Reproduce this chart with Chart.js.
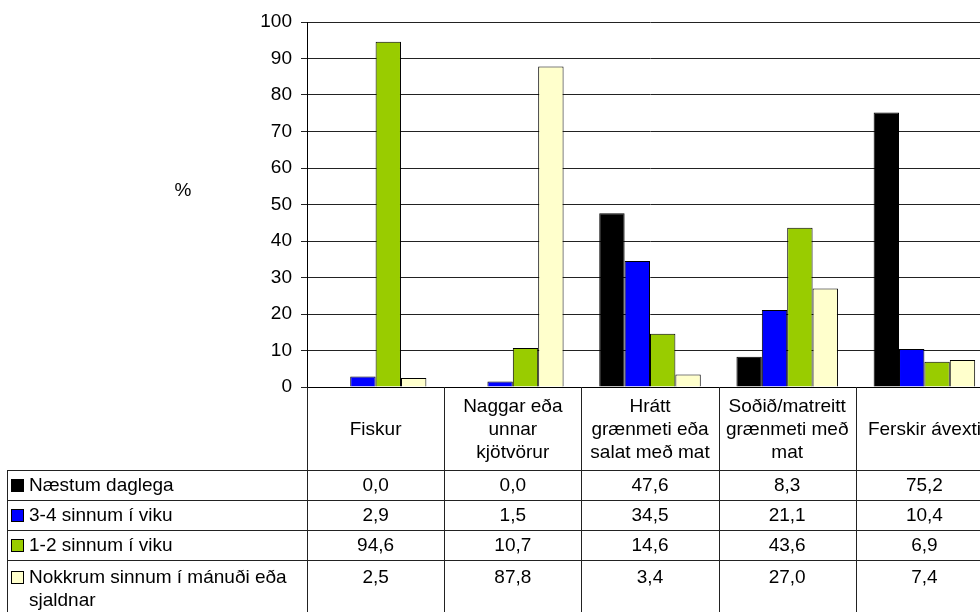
<!DOCTYPE html>
<html><head><meta charset="utf-8">
<script src="https://cdn.jsdelivr.net/npm/chart.js@4/dist/chart.umd.min.js"></script>
<style>
html,body{margin:0;padding:0;overflow:hidden;background:#fff;width:980px;height:612px}
#wrap{position:absolute;left:0;top:0;width:995px;height:612px}
</style></head>
<body><div id="wrap"><canvas id="c" width="995" height="612"></canvas></div>
<script>
// ---- data ----
const categories = [
  ["Fiskur"],
  ["Naggar eða", "unnar", "kjötvörur"],
  ["Hrátt", "grænmeti eða", "salat með mat"],
  ["Soðið/matreitt", "grænmeti með", "mat"],
  ["Ferskir ávexti"]
];
const seriesNames = [
  ["Næstum daglega"],
  ["3-4 sinnum í viku"],
  ["1-2 sinnum í viku"],
  ["Nokkrum sinnum í mánuði eða", "sjaldnar"]
];
const naestumDaglega   = [0.0, 0.0, 47.6, 8.3, 75.2];
const sinnum34         = [2.9, 1.5, 34.5, 21.1, 10.4];
const sinnum12         = [94.6, 10.7, 14.6, 43.6, 6.9];
const nokkrumSinnum    = [2.5, 87.8, 3.4, 27.0, 7.4];
const seriesColors = ["#000000", "#0000FF", "#99CC00", "#FFFFCC"];
const yTicks = [0, 10, 20, 30, 40, 50, 60, 70, 80, 90, 100];
const yAxisTitle = "%";

const seriesValues = [naestumDaglega, sinnum34, sinnum12, nokkrumSinnum];
const FONT = '"Liberation Sans", Arial, sans-serif';
Chart.defaults.font.family = FONT;
Chart.defaults.font.size = 19;
Chart.defaults.color = "#000";

function fmt(v){ return v.toFixed(1).replace('.', ','); }

const tablePlugin = {
  id: 'dataTable',
  afterDraw(chart){
    const ctx = chart.ctx, xs = chart.scales.x, ys = chart.scales.y;
    const left = xs.left, right = xs.right, top = ys.bottom;
    const n = categories.length, w = (right - left) / n;
    const headerH = 83, rowH = 30, tableLeft = 7, lineH = 23;
    const H = chart.height;
    ctx.save();
    ctx.strokeStyle = '#222'; ctx.lineWidth = 1;
    const line = (x1,y1,x2,y2)=>{ctx.beginPath();ctx.moveTo(x1,y1);ctx.lineTo(x2,y2);ctx.stroke();};
    for (let i = 0; i <= n; i++) {
      const px = Math.round(left + i*w) + 0.5;
      line(px, top, px, H);
    }
    line(tableLeft + 0.5, top + headerH, tableLeft + 0.5, H);
    for (let r = 0; r < seriesNames.length; r++) {
      const py = Math.round(top + headerH + r*rowH) + 0.5;
      line(tableLeft, py, right, py);
    }
    ctx.fillStyle = '#000';
    ctx.font = '19px ' + FONT;
    ctx.textBaseline = 'middle';
    ctx.textAlign = 'center';
    // header
    categories.forEach((lines, i) => {
      const cx = left + (i + 0.5)*w;
      const cy = top + headerH/2 + 1;
      const start = cy - (lines.length - 1)*lineH/2;
      lines.forEach((t, k) => ctx.fillText(t, cx, start + k*lineH));
    });
    // rows
    seriesNames.forEach((lines, r) => {
      const rt = top + headerH + r*rowH;
      const cy = lines.length > 1 ? rt + 18 : rt + 16;
      // legend key
      ctx.fillStyle = seriesColors[r];
      ctx.fillRect(11.5, cy - 6.5, 12, 12);
      ctx.strokeStyle = '#000';
      ctx.strokeRect(11.5, cy - 6.5, 12, 12);
      ctx.fillStyle = '#000';
      ctx.textAlign = 'left';
      lines.forEach((t, k) => ctx.fillText(t, 29, cy + k*lineH));
      ctx.textAlign = 'center';
      seriesValues[r].forEach((v, i) => {
        ctx.fillText(fmt(v), left + (i + 0.5)*w, cy);
      });
    });
    // y title
    ctx.fillText(yAxisTitle, 183, 191);
    ctx.restore();
  }
};

new Chart(document.getElementById('c'), {
  type: 'bar',
  data: {
    labels: categories,
    datasets: seriesValues.map((vals, i) => ({
      label: seriesNames[i].join(' '),
      data: vals,
      backgroundColor: seriesColors[i],
      borderColor: '#000',
      borderWidth: 1,
      categoryPercentage: 0.74,
      barPercentage: 1.0
    }))
  },
  options: {
    responsive: false,
    animation: false,
    devicePixelRatio: 1,
    layout: { padding: { left: 0, top: 22, right: 2, bottom: 225 } },
    plugins: { legend: { display: false }, tooltip: { enabled: false } },
    scales: {
      x: {
        grid: { display: false },
        border: { display: true, color: '#000', width: 1 },
        ticks: { display: false },
        afterFit(s){ s.height = 0; }
      },
      y: {
        min: 0, max: 100,
        afterBuildTicks(s){ s.ticks = yTicks.map(v => ({ value: v })); },
        ticks: { padding: 9, color: '#000', font: { size: 19 } },
        grid: { color: '#222', lineWidth: 1, tickLength: 6, drawTicks: true },
        border: { display: true, color: '#000', width: 1 },
        afterFit(s){ s.width = 307; }
      }
    }
  },
  plugins: [tablePlugin]
});
</script>
</body></html>
